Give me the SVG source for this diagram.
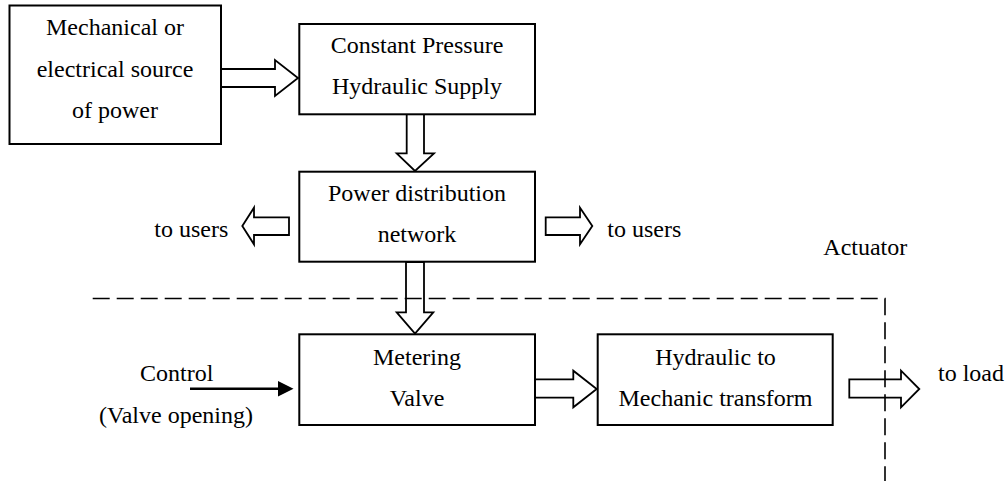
<svg xmlns="http://www.w3.org/2000/svg" width="1008" height="481" viewBox="0 0 1008 481">
<style>
.box{fill:#fff;stroke:#000;stroke-width:2}
.blk{fill:#fff;stroke:#000;stroke-width:1.8;stroke-linejoin:miter}
.t{font-family:"Liberation Serif","Times New Roman",serif;font-size:24px;fill:#000}
.c{text-anchor:middle}
.dash{fill:none;stroke:#000;stroke-width:1.6;stroke-dasharray:17 7}
</style>
<rect width="1008" height="481" fill="#fff"/>
<g id="connectors">
<polygon class="blk" points="221,69 275,69 275,60 298,78 275,96 275,87 221,87"/>
<polygon class="blk" points="406.7,114 424,114 424,153.3 434,153.3 415,171 396.7,153.3 406.7,153.3"/>
<polygon class="blk" points="289,217.3 254,217.3 254,207.7 242.3,226 254,244.3 254,235 289,235"/>
<polygon class="blk" points="545.7,217.3 580,217.3 580,207.7 592.3,226 580,244.3 580,235 545.7,235"/>
<polygon class="blk" points="406,262 424,262 424,312.3 433.3,312.3 415,333.5 396.7,312.3 406,312.3"/>
<polygon class="blk" points="535,379.3 573.3,379.3 573.3,370.7 596.7,389 573.3,407.3 573.3,397.7 535,397.7"/>
<polygon class="blk" points="849.3,379.3 901,379.3 901,370.7 919.3,389 901,407.3 901,397.7 849.3,397.7"/>
<line x1="190" y1="388.7" x2="280" y2="388.7" stroke="#000" stroke-width="2.5"/>
<polygon points="278,381 293.5,388.7 278,396.4" fill="#000"/>
<polyline class="dash" points="92.7,298.5 885,298.5 885,481"/>
</g>
<g id="source">
<rect class="box" x="9.5" y="5.5" width="211.5" height="138.5"/>
<text class="t c" x="115" y="35">Mechanical or</text>
<text class="t c" x="115" y="77.3">electrical source</text>
<text class="t c" x="115" y="118.3">of power</text>
</g>
<g id="supply">
<rect class="box" x="299.3" y="24" width="235.7" height="90.3"/>
<text class="t c" x="417" y="53.3">Constant Pressure</text>
<text class="t c" x="417" y="94.3">Hydraulic Supply</text>
</g>
<g id="distribution">
<rect class="box" x="299.3" y="171.7" width="235.7" height="90"/>
<text class="t c" x="417" y="200.7">Power distribution</text>
<text class="t c" x="417" y="242.3">network</text>
</g>
<g id="users-left"><text class="t" x="154.3" y="237.3">to users</text></g>
<g id="users-right"><text class="t" x="607.3" y="237.3">to users</text></g>
<g id="actuator-label"><text class="t" x="823.3" y="255">Actuator</text></g>
<g id="metering">
<rect class="box" x="299.3" y="334.3" width="235.7" height="90.7"/>
<text class="t c" x="417" y="365">Metering</text>
<text class="t c" x="417" y="406">Valve</text>
</g>
<g id="transform">
<rect class="box" x="597.7" y="334.3" width="235" height="90.7"/>
<text class="t c" x="715.5" y="365">Hydraulic to</text>
<text class="t c" x="715.5" y="406">Mechanic transform</text>
</g>
<g id="control">
<text class="t" x="140" y="381">Control</text>
<text class="t" x="99" y="423.3">(Valve opening)</text>
</g>
<g id="load"><text class="t" x="938" y="380.7">to load</text></g>
</svg>
